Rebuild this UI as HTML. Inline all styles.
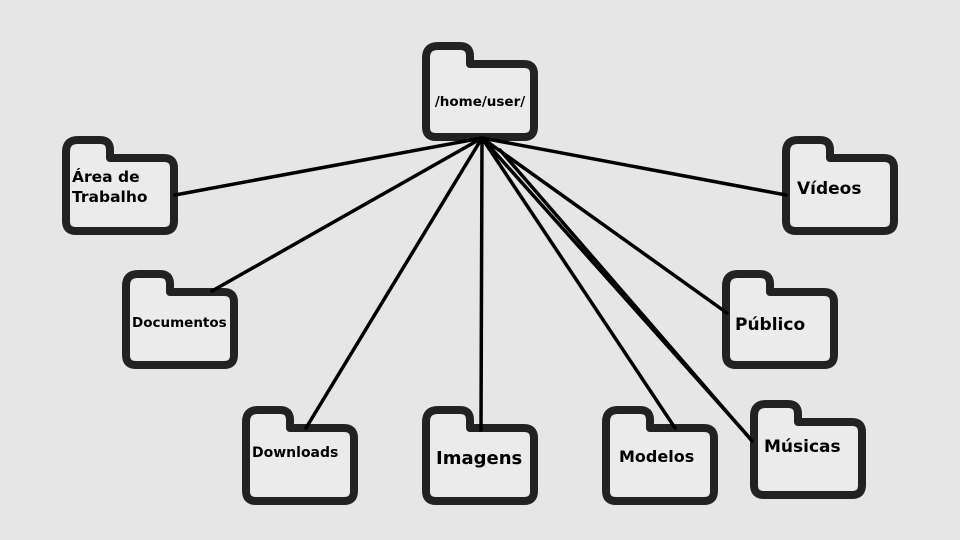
<!DOCTYPE html>
<html><head><meta charset="utf-8"><style>
html,body{margin:0;padding:0;background:#e6e6e6;}
svg{display:block;}
text{font-family:"DejaVu Sans","Liberation Sans",sans-serif;font-weight:bold;fill:#000;}
</style></head><body>
<svg width="960" height="540" viewBox="0 0 960 540">
<defs>
<g id="f">
<path d="M4,16 Q4,4 16,4 L38,4 Q48,4 48,14 L48,22 L102,22 Q112,22 112,32 L112,85 Q112,95 102,95 L14,95 Q4,95 4,85 Z" fill="#ebebeb" stroke="#222" stroke-width="8" stroke-linejoin="round"/>
</g>
</defs>
<use href="#f" x="422" y="42"/>
<use href="#f" x="62" y="136"/>
<use href="#f" x="122" y="270"/>
<use href="#f" x="242" y="406"/>
<use href="#f" x="422" y="406"/>
<use href="#f" x="602" y="406"/>
<use href="#f" x="750" y="400"/>
<use href="#f" x="722" y="270"/>
<use href="#f" x="782" y="136"/>
<g stroke="#000" stroke-width="3.5" stroke-linecap="round">
<line x1="482" y1="138" x2="175" y2="195"/>
<line x1="482" y1="138" x2="212" y2="291"/>
<line x1="482" y1="138" x2="306" y2="428"/>
<line x1="482" y1="138" x2="481" y2="430"/>
<line x1="482" y1="138" x2="675" y2="428"/>
<line x1="482" y1="138" x2="748" y2="436"/>
<line x1="500" y1="150" x2="752" y2="441"/>
<line x1="482" y1="138" x2="727" y2="313"/>
<line x1="482" y1="138" x2="786" y2="195"/>
</g>
<text x="480" y="106" font-size="13.5" text-anchor="middle">/home/user/</text>
<text x="72" y="182" font-size="15.5">Área de</text>
<text x="72" y="202" font-size="15.5">Trabalho</text>
<text x="132" y="327" font-size="13.5">Documentos</text>
<text x="252" y="457" font-size="14">Downloads</text>
<text x="436" y="464" font-size="18">Imagens</text>
<text x="619" y="462" font-size="16">Modelos</text>
<text x="764" y="452" font-size="17">Músicas</text>
<text x="735" y="330" font-size="17">Público</text>
<text x="797" y="194" font-size="17">Vídeos</text>
</svg>
</body></html>
